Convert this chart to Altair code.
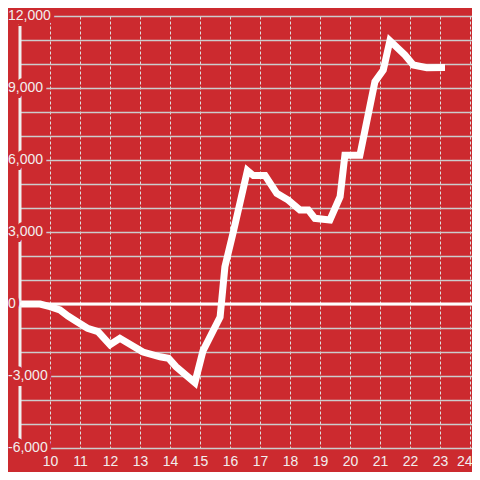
import altair as alt
import pandas as pd

# ---- data ----
x_vals = [9.0, 9.67, 10.0, 10.33, 10.6, 10.9, 11.25, 11.6, 12.0, 12.33, 13.1, 13.67, 13.95,
          14.2, 14.83, 15.1, 15.67, 15.83, 16.1, 16.58, 16.78, 17.17, 17.56, 17.94, 18.33,
          18.61, 18.83, 19.33, 19.67, 19.83, 20.33, 20.83, 21.11, 21.33, 21.83, 22.11, 22.56, 23.05]
y_vals = [0, 0, -110, -250, -500, -740, -1010, -1150, -1700, -1430, -2000, -2200, -2260,
          -2610, -3280, -1950, -540, 1550, 2950, 5560, 5350, 5350, 4610, 4330, 3920,
          3920, 3570, 3500, 4470, 6200, 6200, 9260, 9750, 10970, 10375, 9958, 9847, 9850]
y_label_vals = [12000, 9000, 6000, 3000, 0, -3000, -6000]
y_grid_vals = list(range(-6000, 12001, 1000))
x_tick_vals = list(range(10, 25))

BG = "#CC2A2F"
FG = "#f2eeee"
FONT = "Liberation Sans"
PAD_L = 12
W, H = 452, 432
PX_PER_UNIT = 30
X_DOMAIN = [9, 9 + W / PX_PER_UNIT]
LAST_X = x_tick_vals[-1]

df = pd.DataFrame({"x": x_vals, "y": y_vals})
labels = pd.DataFrame({"y": y_label_vals})
labels["lbl"] = [f"{v:,}" for v in y_label_vals]

xscale = alt.Scale(domain=X_DOMAIN, nice=False, zero=False)
yscale = alt.Scale(domain=[-6000, 12000], nice=False, zero=False)

x_axis = alt.Axis(
    values=x_tick_vals, grid=True, gridDash=[3, 2], gridColor="#dddddd",
    gridWidth=1, ticks=False, domain=False, labelPadding=6, labelFontSize=14,
    labelColor=FG, labelFont=FONT, title=None, labelFlush=False,
    labelOverlap=False, format="d",
    labelAlign={"condition": {"test": f"datum.value == {LAST_X}", "value": "right"},
                "value": "center"},
    labelOffset={"condition": {"test": f"datum.value == {LAST_X}", "value": 2},
                 "value": 0})
y_axis = alt.Axis(
    values=y_grid_vals, grid=True, gridColor="#cccccc", gridWidth=1.5,
    labels=False, ticks=False, domain=False, title=None)

X = lambda f: alt.X(f, scale=xscale, axis=x_axis)
Y = lambda f: alt.Y(f, scale=yscale, axis=y_axis)

line = alt.Chart(df).mark_line(
    color="white", strokeWidth=7, strokeCap="square", strokeJoin="miter"
).encode(x=X("x:Q"), y=Y("y:Q"))

y_axis_line = alt.Chart(pd.DataFrame({"x": [X_DOMAIN[0]]})).mark_rule(
    color="#f0f0f0", strokeWidth=3
).encode(x=X("x:Q"), y=alt.value(0), y2=alt.value(H))

zero_line = alt.Chart(pd.DataFrame({"y": [0]})).mark_rule(
    color="white", strokeWidth=3
).encode(y=Y("y:Q"), x=alt.value(-3), x2=alt.value(W))

label_x = -PAD_L

base = alt.Chart(labels)
halo = base.mark_text(align="left", baseline="middle", fontSize=14, font=FONT,
                      fill=BG, stroke=BG, strokeWidth=8).encode(
    x=alt.value(label_x), y=Y("y:Q"), text="lbl:N")
txt = base.mark_text(align="left", baseline="middle", fontSize=14, font=FONT,
                     fill=FG).encode(
    x=alt.value(label_x), y=Y("y:Q"), text="lbl:N")

chart = alt.layer(
    line, y_axis_line, zero_line, halo, txt
).properties(
    width=W, height=H,
    autosize=alt.AutoSizeParams(type="none"),
    padding={"left": PAD_L, "top": 8, "right": 0, "bottom": 24},
).configure(background=BG).configure_view(stroke=None)

chart.save("out.html", embed_options={"renderer": "svg", "actions": False})
